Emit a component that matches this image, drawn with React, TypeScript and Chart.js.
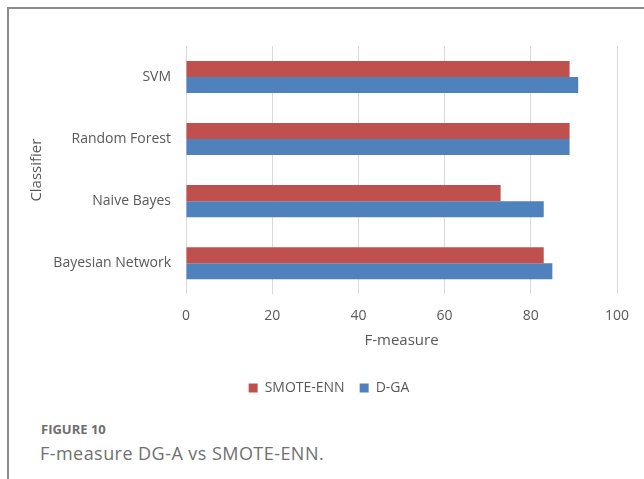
import React, { useEffect, useRef } from "react";
import { Chart, registerables } from "chart.js";

Chart.register(...registerables);

const categories = ["SVM", "Random Forest", "Naive Bayes", "Bayesian Network"];
const smoteEnn = [89, 89, 73, 83];
const dga = [91, 89, 83, 85];
const seriesNames = ["SMOTE-ENN", "D-GA"];
const xTicks = [0, 20, 40, 60, 80, 100];

const TEXT = "#595959";
const FONT = "'Open Sans', sans-serif";

export default function App() {
  const ref = useRef<HTMLCanvasElement | null>(null);

  useEffect(() => {
    if (!ref.current) return;
    const chart = new Chart(ref.current, {
      type: "bar",
      data: {
        labels: categories,
        datasets: [
          {
            label: seriesNames[0],
            data: smoteEnn,
            backgroundColor: "#C0504D",
            barPercentage: 1,
            categoryPercentage: 32 / 62,
          },
          {
            label: seriesNames[1],
            data: dga,
            backgroundColor: "#4F81BD",
            barPercentage: 1,
            categoryPercentage: 32 / 62,
          },
        ],
      },
      options: {
        indexAxis: "y",
        responsive: false,
        animation: false,
        layout: { padding: { top: 46, right: 27, left: 41, bottom: 0 } },
        scales: {
          x: {
            min: xTicks[0],
            max: xTicks[xTicks.length - 1],
            afterBuildTicks: (scale: any) => {
              scale.ticks = xTicks.map((v) => ({ value: v }));
            },
            ticks: { font: { family: FONT, size: 14 }, color: TEXT, padding: 13 },
            grid: { color: "#d9d9d9", lineWidth: 1, drawTicks: false },
            border: { display: false },
            title: {
              display: true,
              text: "F-measure",
              font: { family: FONT, size: 15 },
              color: TEXT,
              padding: { top: -5, bottom: 16 },
            },
          },
          y: {
            afterFit: (scale: any) => {
              scale.width = 145;
            },
            ticks: { font: { family: FONT, size: 14 }, color: TEXT, padding: 15 },
            grid: { display: false, drawTicks: false },
            border: { display: false },
            title: {
              display: true,
              text: "Classifier",
              font: { family: FONT, size: 15 },
              color: TEXT,
              padding: { top: -13, bottom: 0 },
            },
          },
        },
        plugins: {
          legend: {
            position: "bottom",
            labels: {
              boxWidth: 9,
              boxHeight: 9,
              padding: 15,
              color: TEXT,
              font: { family: FONT, size: 14 },
            },
          },
          tooltip: { enabled: false },
        },
      },
    });
    return () => chart.destroy();
  }, []);

  return (
    <div
      style={{
        position: "absolute",
        left: 0,
        top: 0,
        width: 644,
        height: 479,
        overflow: "hidden",
        background: "#fff",
      }}
    >
      <div
        style={{
          position: "absolute",
          left: 7,
          top: 7,
          width: 700,
          height: 600,
          borderTop: "2px solid #8c8c8c",
          borderLeft: "2px solid #8c8c8c",
        }}
      />
      <canvas
        ref={ref}
        width={644}
        height={405}
        style={{ position: "absolute", left: 0, top: 0, display: "block" }}
      />
      <div
        style={{
          position: "absolute",
          left: 41,
          top: 421,
          fontFamily: FONT,
          fontSize: 13,
          fontWeight: 700,
          lineHeight: "16px",
          color: "#6e6e6e",
          whiteSpace: "nowrap",
        }}
      >
        FIGURE 10
      </div>
      <div
        style={{
          position: "absolute",
          left: 40,
          top: 442,
          fontFamily: FONT,
          fontSize: 18,
          lineHeight: "22px",
          letterSpacing: "0.45px",
          color: "#707070",
          whiteSpace: "nowrap",
        }}
      >
        F-measure DG-A vs SMOTE-ENN.
      </div>
    </div>
  );
}
